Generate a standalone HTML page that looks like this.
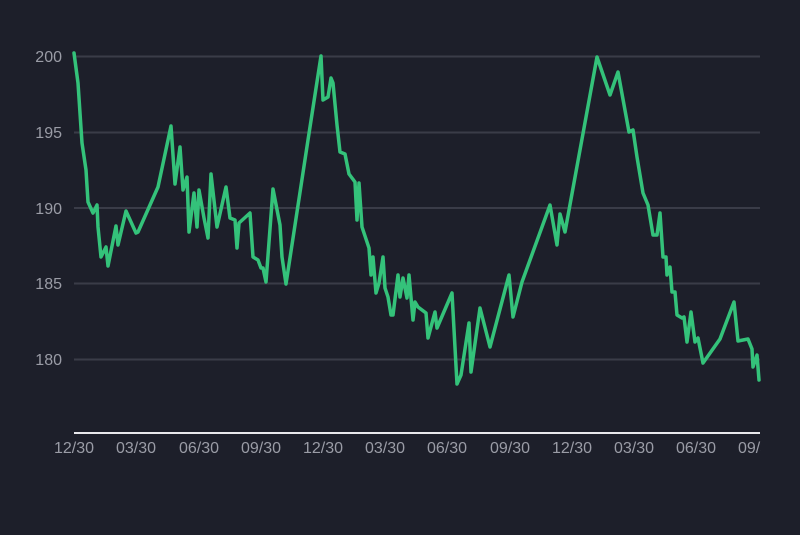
<!DOCTYPE html>
<html><head><meta charset="utf-8"><style>
html,body{margin:0;padding:0;background:#1d1f2a;}
svg{display:block}
text{font-family:"Liberation Sans",sans-serif;font-size:16px;fill:#9a9ca6}
</style></head><body>
<svg width="800" height="535" viewBox="0 0 800 535">
<rect width="800" height="535" fill="#1d1f2a"/>
<g stroke="#3a3c48" stroke-width="2">
<line x1="74" x2="760" y1="56.5" y2="56.5"/>
<line x1="74" x2="760" y1="132.5" y2="132.5"/>
<line x1="74" x2="760" y1="208" y2="208"/>
<line x1="74" x2="760" y1="283.5" y2="283.5"/>
<line x1="74" x2="760" y1="359.5" y2="359.5"/>
</g>
<g text-anchor="end">
<text x="62" y="62">200</text>
<text x="62" y="138">195</text>
<text x="62" y="214">190</text>
<text x="62" y="289">185</text>
<text x="62" y="365">180</text>
</g>
<line x1="74" x2="760" y1="433" y2="433" stroke="#e8e8ec" stroke-width="2"/>
<g text-anchor="middle">
<text x="74" y="453">12/30</text>
<text x="136" y="453">03/30</text>
<text x="199" y="453">06/30</text>
<text x="261" y="453">09/30</text>
<text x="323" y="453">12/30</text>
<text x="385" y="453">03/30</text>
<text x="447" y="453">06/30</text>
<text x="510" y="453">09/30</text>
<text x="572" y="453">12/30</text>
<text x="634" y="453">03/30</text>
<text x="696" y="453">06/30</text>
</g>
<svg x="0" y="0" width="761" height="535" overflow="hidden"><text x="758" y="453" text-anchor="middle">09/30</text></svg>
<polyline fill="none" stroke="#34c27a" stroke-width="3.5" stroke-linejoin="round" stroke-linecap="round" points="74,53 78,83 82,143 86,170 88,202 93,213 97,205 98,227 101,257 106,247 108,266 116,226 118,245 126,211 136,233 138,232 158,187 171,126 175,184 180,147 183,190 187,177 189,232 194,193 197,227 199,190 204,218 208,238 211,174 217,227 226,187 230,218 235,220 237,248 239,223 250,213 253,257 258,260 261,268 263,268 266,282 273,189 280,225 282,257 286,284 308,140 321,56 323,100 328,97 331,78 333,83 337,125 340,152 345,154 349,174 355,182 357,220 359,183 362,227 369,248 371,275 373,257 376,293 379,283 383,257 385,288 388,297 391,315 393,315 398,275 400,297 403,278 407,298 409,275 413,320 415,302 418,307 426,313 428,338 435,312 437,328 452,293 457,384 461,375 469,323 471,372 480,308 490,347 509,275 513,317 522,282 550,205 557,245 560,214 565,232 597,57 610,95 618,72 629,132 633,130 637,157 643,193 648,205 653,235 657,235 660,213 663,257 666,257 667,275 670,267 672,292 675,292 677,315 682,318 684,317 687,342 691,312 695,342 698,338 703,363 720,339 734,302 738,341 748,339 752,349 753,367 757,355 759,380"/>
</svg>
</body></html>
